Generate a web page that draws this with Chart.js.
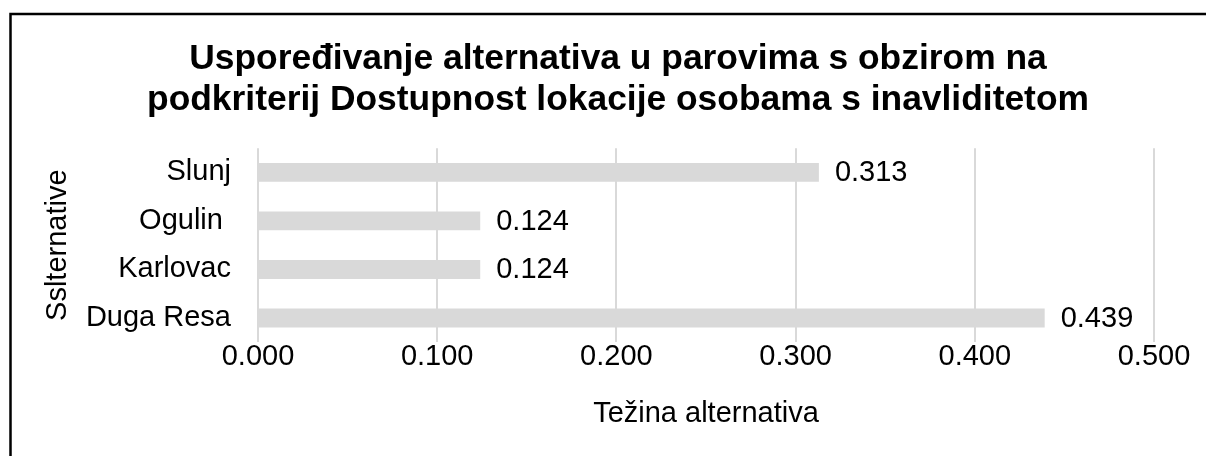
<!DOCTYPE html>
<html>
<head>
<meta charset="utf-8">
<script src="https://cdn.jsdelivr.net/npm/chart.js@4"></script>
<style>
  html, body { margin: 0; padding: 0; background: #fff; overflow: hidden; }
  canvas { display: block; }
</style>
</head>
<body>
<canvas id="c" width="1206" height="456"></canvas>
<script>
const titleLines = ["Uspoređivanje alternativa u parovima s obzirom na", "podkriterij Dostupnost lokacije osobama s inavliditetom"];
const categories = ["Slunj", "Ogulin ", "Karlovac", "Duga Resa"];
const weights = [0.313, 0.124, 0.124, 0.439];
const xAxisTitle = "Težina alternativa";
const yAxisTitle = "Sslternative";

Chart.defaults.font.family = "'Liberation Sans', Arial, sans-serif";
Chart.defaults.color = "#000";

const frame = {
  id: 'frame',
  beforeDraw(chart) {
    const ctx = chart.ctx;
    ctx.save();
    ctx.fillStyle = '#fff';
    ctx.fillRect(0, 0, chart.width, chart.height);
    ctx.strokeStyle = '#000';
    ctx.lineWidth = 2.5;
    ctx.strokeRect(10.5, 14, 1300, 600);
    ctx.restore();
  }
};

const valueLabels = {
  id: 'valueLabels',
  afterDatasetsDraw(chart) {
    const ctx = chart.ctx;
    const meta = chart.getDatasetMeta(0);
    ctx.save();
    ctx.font = "29px 'Liberation Sans', Arial, sans-serif";
    ctx.fillStyle = '#000';
    ctx.textAlign = 'left';
    ctx.textBaseline = 'middle';
    meta.data.forEach((bar, i) => {
      ctx.fillText(weights[i].toFixed(3), bar.x + 16, bar.y + 1);
    });
    ctx.restore();
  }
};

new Chart(document.getElementById('c'), {
  type: 'bar',
  data: {
    labels: categories,
    datasets: [{
      data: weights,
      yAxisID: 'y',
      backgroundColor: '#d9d9d9',
      borderWidth: 0,
      barPercentage: 0.39,
      categoryPercentage: 1.0
    }]
  },
  options: {
    indexAxis: 'y',
    responsive: false,
    animation: false,
    layout: { padding: { left: 41, right: 11, top: 14, bottom: 25 } },
    plugins: {
      legend: { display: false },
      tooltip: { enabled: false },
      title: {
        display: true,
        text: titleLines,
        color: '#000',
        font: { size: 35.4, weight: 'bold', lineHeight: 1.16 },
        padding: { top: 25, bottom: 27 }
      }
    },
    scales: {
      x: {
        min: 0,
        max: 0.5,
        ticks: {
          stepSize: 0.1,
          padding: 0,
          font: { size: 29, lineHeight: 1.0 },
          color: '#000',
          callback: v => Number(v).toFixed(3)
        },
        grid: { color: '#d9d9d9', lineWidth: 2, drawTicks: false },
        border: { display: false },
        title: {
          display: true,
          text: xAxisTitle,
          color: '#000',
          font: { size: 29, lineHeight: 1.2 },
          padding: { top: 25, bottom: 0 }
        }
      },
      y: {
        afterFit(scale) { scale.width = 217; },
        ticks: { padding: 27, font: { size: 29 }, color: '#000' },
        grid: { display: false, drawTicks: false },
        border: { display: false },
        title: {
          display: true,
          text: yAxisTitle,
          color: '#000',
          font: { size: 29, lineHeight: 1.2 },
          padding: { top: 0, bottom: 10 }
        }
      },
      yRight: {
        type: 'category',
        position: 'right',
        afterFit(scale) { scale.width = 41; },
        ticks: { display: false },
        grid: { display: false, drawTicks: false },
        border: { display: false }
      }
    }
  },
  plugins: [frame, valueLabels]
});
</script>
</body>
</html>
